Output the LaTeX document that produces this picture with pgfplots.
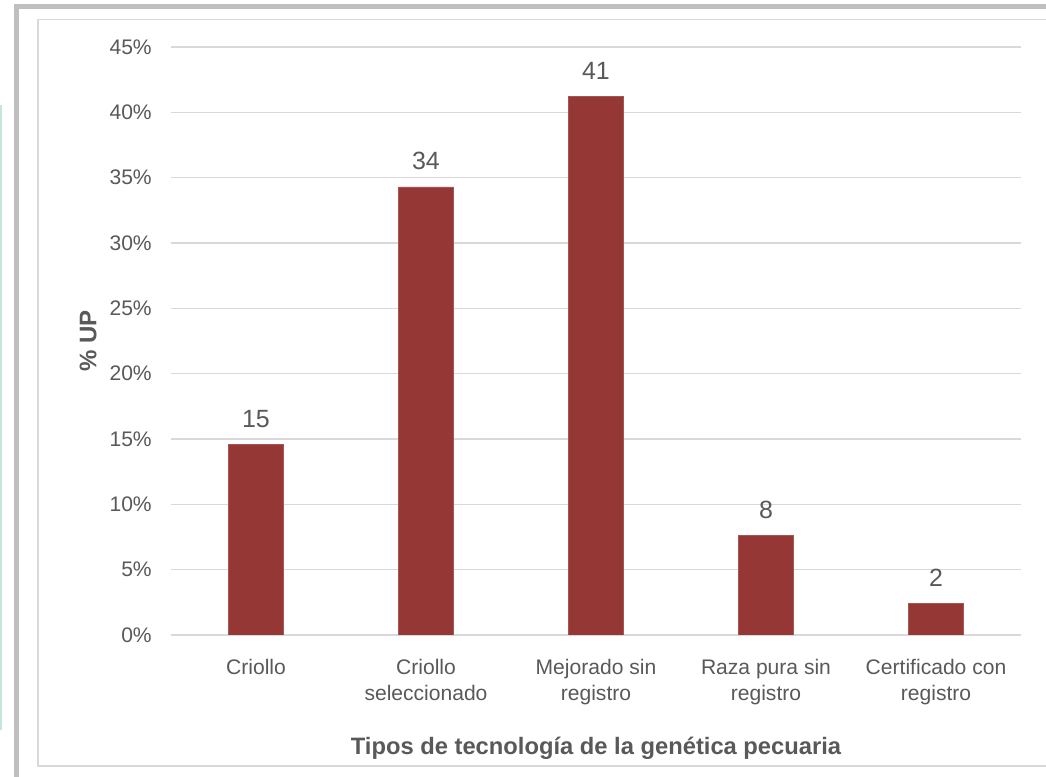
\documentclass[border=0pt]{standalone}
\usepackage{pgfplots}
\pgfplotsset{compat=1.18}
\usepackage{fontspec}
\setmainfont{Liberation Sans}
\definecolor{barc}{HTML}{953735}
\definecolor{txt}{HTML}{595959}
\definecolor{gridc}{HTML}{D9D9D9}
\definecolor{outerc}{HTML}{BFBFBF}
\definecolor{tealc}{HTML}{C5E8D6}
\begin{document}
\begin{tikzpicture}
\useasboundingbox (0,0) rectangle (784.5pt,582.75pt);
\begin{scope}
\clip (0,0) rectangle (784.5pt,582.75pt);
\fill[white] (0,0) rectangle (784.5pt,582.75pt);
\draw[outerc, line width=3.75pt] (12.375pt,-20pt) rectangle (820pt,577.5pt);
\draw[gridc, line width=1.1pt] (28.5pt,8.25pt) rectangle (820pt,568.125pt);
\draw[tealc, line width=1.2pt] (0.6pt,35.25pt) -- (0.6pt,504pt);
\end{scope}
\begin{axis}[
  at={(128.25pt,106.5pt)}, anchor=south west,
  scale only axis, width=637.5pt, height=441pt,
  xmin=-0.5, xmax=4.5, ymin=0, ymax=45,
  ytick={0,5,...,45},
  xtick=data,
  xticklabels={Criollo, {Criollo\\seleccionado}, {Mejorado sin\\registro}, {Raza pura sin\\registro}, {Certificado con\\registro}},
  ybar, bar width=41.25pt,
  axis line style={draw=none},
  tick style={draw=none},
  ymajorgrids, grid style={gridc, line width=1pt},
  /pgf/number format/assume math mode=true,
  yticklabel={\pgfmathprintnumber{\tick}\%},
  yticklabel style={font=\fontsize{15.8}{19}\selectfont, text=txt, inner sep=0pt, anchor=east, xshift=-14.25pt},
  xticklabel style={font=\fontsize{15.8}{19.5}\selectfont, text=txt, align=center, inner sep=0pt, anchor=north, yshift=-13.5pt},
  nodes near coords={\pgfmathprintnumber[fixed,precision=0]{\pgfplotspointmeta}},
  nodes near coords style={font=\fontsize{18.7}{22}\selectfont, text=txt, inner sep=0pt, anchor=south, yshift=12.5pt},
  xlabel={Tipos de tecnología de la genética pecuaria},
  ylabel={\% UP},
  xlabel style={font=\bfseries\fontsize{17.8}{21}\selectfont, text=txt, at={(axis description cs:0.5,0)}, anchor=base, inner sep=0pt, yshift=-90pt},
  ylabel style={font=\bfseries\fontsize{18}{21}\selectfont, text=txt, at={(axis description cs:-0.0976,0.5)}, anchor=center, inner sep=0pt},
]
\addplot[fill=barc, draw=barc!85!white, line width=0.3pt] coordinates {(0,14.6) (1,34.3) (2,41.2) (3,7.6) (4,2.4)};
\end{axis}
\end{tikzpicture}
\end{document}
